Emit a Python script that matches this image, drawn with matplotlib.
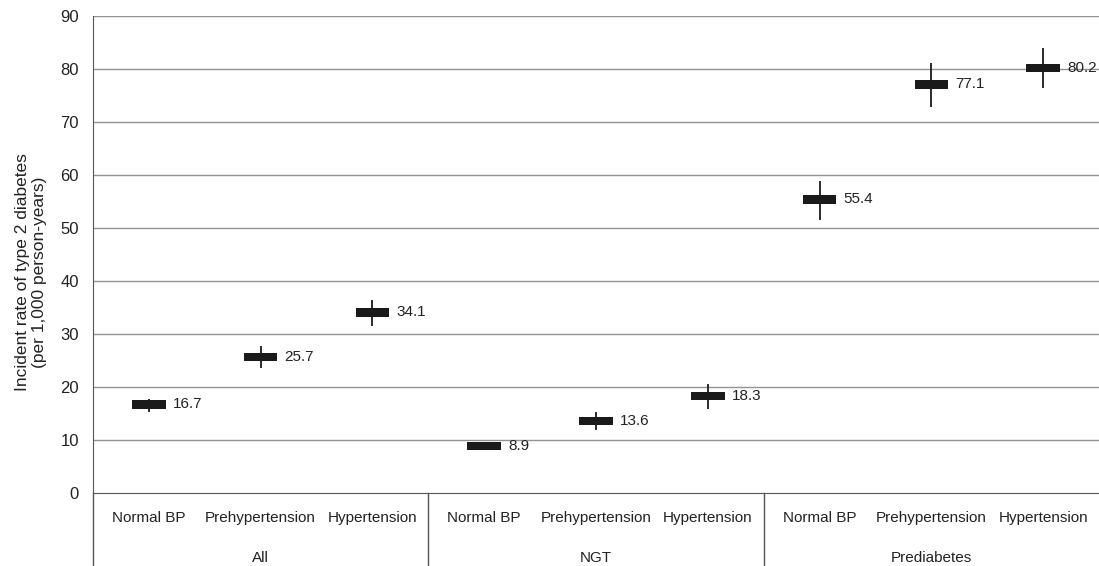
import numpy as np
import matplotlib.pyplot as plt

plt.rcParams['font.family'] = ['Liberation Sans', 'DejaVu Sans']

groups = ['All', 'NGT', 'Prediabetes']
bp_levels = ['Normal BP', 'Prehypertension', 'Hypertension']
rates = [16.7, 25.7, 34.1, 8.9, 13.6, 18.3, 55.4, 77.1, 80.2]
ci_low = [15.3, 23.6, 31.5, 8.1, 11.8, 15.9, 51.6, 72.8, 76.4]
ci_high = [17.8, 27.8, 36.4, 9.7, 15.3, 20.5, 58.8, 81.2, 83.9]
yticks = [0, 10, 20, 30, 40, 50, 60, 70, 80, 90]

fig = plt.figure(figsize=(10.99, 5.66), dpi=100)
ax = fig.add_axes([93 / 1099, 73 / 566, 1 - 93 / 1099, 477 / 566])

x = np.arange(len(rates))
ax.set_xlim(-0.5, len(rates) - 0.5)
ax.set_ylim(0, 90)
ax.set_yticks(yticks)
ax.tick_params(axis='y', length=0, labelsize=12, colors='#222222', pad=10)
ax.set_xticks([])
for y in yticks[1:]:
    ax.axhline(y, color='#939393', lw=1.0, zorder=0)

for s in ['top', 'right']:
    ax.spines[s].set_visible(False)
ax.spines['left'].set_color('#555555')
ax.spines['bottom'].set_color('#555555')

# confidence intervals and point estimates
ax.vlines(x, ci_low, ci_high, color='#1a1a1a', lw=1.3, zorder=2)
ax.bar(x, 1.6, width=0.3, bottom=np.array(rates) - 0.8, color='#1a1a1a', zorder=3)
for xi, r in zip(x, rates):
    ax.text(xi + 0.215, r, f'{r}', va='center', ha='left', fontsize=11, color='#222222', zorder=4)

# category table under the axis
trans = ax.get_xaxis_transform()
n = len(bp_levels)
for i, lab in enumerate(bp_levels * len(groups)):
    ax.text(i, -0.052, lab, ha='center', va='center', fontsize=11, color='#222222', transform=trans)
for g, name in enumerate(groups):
    ax.text(g * n + (n - 1) / 2, -0.136, name, ha='center', va='center', fontsize=11,
            color='#222222', transform=trans)
for g in range(len(groups)):
    ax.plot([g * n - 0.5, g * n - 0.5], [0, -0.155], color='#555555', lw=1.0,
            transform=trans, clip_on=False)

fig.text(31 / 1099, (566 - 272) / 566, 'Incident rate of type 2 diabetes\n(per 1,000 person-years)',
         rotation=90, ha='center', va='center', fontsize=12.5, color='#222222', linespacing=1.1)

fig.savefig('out.png', dpi=100)
